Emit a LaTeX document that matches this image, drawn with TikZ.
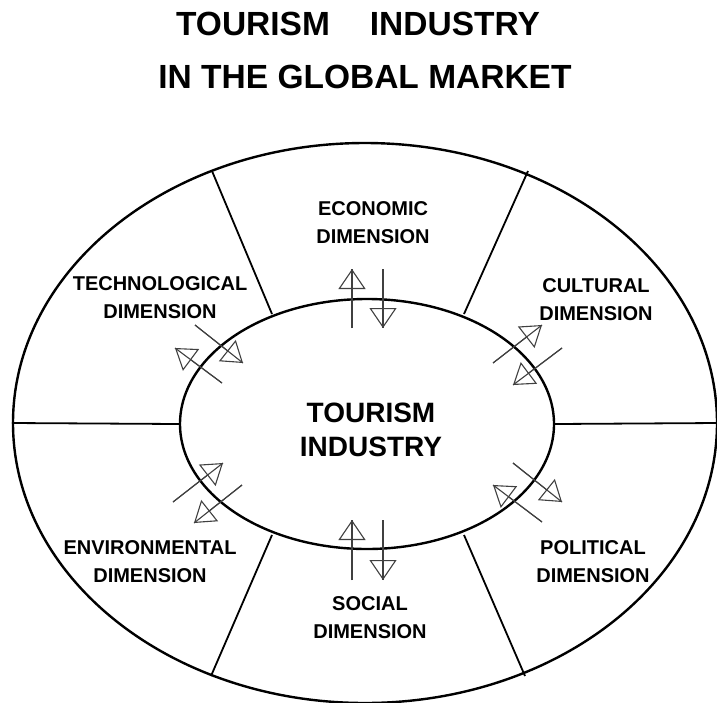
\documentclass[tikz,border=0pt]{standalone}
\usepackage{fontspec}
\setmainfont{Liberation Sans}
\usetikzlibrary{arrows.meta,shapes.geometric}
\begin{document}
\begin{tikzpicture}[x=1pt,y=-1pt,
  ring/.style={draw=black,line width=2.4pt,ellipse,inner sep=0pt},
  divider/.style={draw=black,line width=1.8pt},
  shaft/.style={draw=black!75,line width=1.1pt},
  tri/.style={-{Triangle[open,length=20pt,width=27pt]}},
  lbl/.style={font=\fontsize{20}{28}\selectfont\bfseries,align=center},
  big/.style={font=\fontsize{28}{34}\selectfont\bfseries,align=center},
  ttl/.style={font=\fontsize{33.5}{40}\selectfont\bfseries,anchor=base}]
\useasboundingbox (0,0) rectangle (717,702);
\clip (0,0) rectangle (717,702);
\node[ttl] (title1) at (358,35) {TOURISM\hspace{40pt}INDUSTRY};
\node[ttl] (title2) at (365,88) {IN THE GLOBAL MARKET};
\node[ring,minimum width=704pt,minimum height=560pt] (outer) at (365,423) {};
\node[ring,minimum width=374pt,minimum height=250pt] (inner) at (367,424) {};
% divider lines
\coordinate (ul1) at (212,171); \coordinate (ul2) at (272,314);
\coordinate (ur1) at (528,171); \coordinate (ur2) at (464,314);
\coordinate (ll1) at (211,676); \coordinate (ll2) at (272,535);
\coordinate (lr1) at (525,676); \coordinate (lr2) at (464,535);
\draw[divider] (ul1) -- (ul2);
\draw[divider] (ur1) -- (ur2);
\draw[divider] (ll1) -- (ll2);
\draw[divider] (lr1) -- (lr2);
\draw[divider] (outer.west) -- (inner.west);
\draw[divider] (inner.east) -- (outer.east);
% labels
\node[big] (center) at (371,430) {TOURISM\\INDUSTRY};
\node[lbl] (eco) at (373,223) {ECONOMIC\\DIMENSION};
\node[lbl] (tech) at (160,298) {TECHNOLOGICAL\\DIMENSION};
\node[lbl] (cult) at (596,300) {CULTURAL\\DIMENSION};
\node[lbl] (env) at (150,562) {ENVIRONMENTAL\\DIMENSION};
\node[lbl] (pol) at (593,562) {POLITICAL\\DIMENSION};
\node[lbl] (soc) at (370,618) {SOCIAL\\DIMENSION};
% arrow end points
\coordinate (s1) at (352,328); \coordinate (e1) at (352,269);
\coordinate (s2) at (383,269); \coordinate (e2) at (383,328);
\coordinate (s3) at (352,580); \coordinate (e3) at (352,520);
\coordinate (s4) at (383,520); \coordinate (e4) at (383,580);
\coordinate (s5) at (195,325); \coordinate (e5) at (243,363);
\coordinate (s6) at (222,383); \coordinate (e6) at (175,348);
\coordinate (s7) at (493,363); \coordinate (e7) at (542,325);
\coordinate (s8) at (562,348); \coordinate (e8) at (513,385);
\coordinate (s9) at (173,502); \coordinate (e9) at (223,463);
\coordinate (s10) at (242,485); \coordinate (e10) at (194,523);
\coordinate (s11) at (513,463); \coordinate (e11) at (562,502);
\coordinate (s12) at (542,522); \coordinate (e12) at (493,485);
\foreach \i in {1,...,12} {
  \draw[shaft] (s\i) -- (e\i);
  \draw[shaft,tri] (s\i) -- (e\i);
}
\end{tikzpicture}
\end{document}
